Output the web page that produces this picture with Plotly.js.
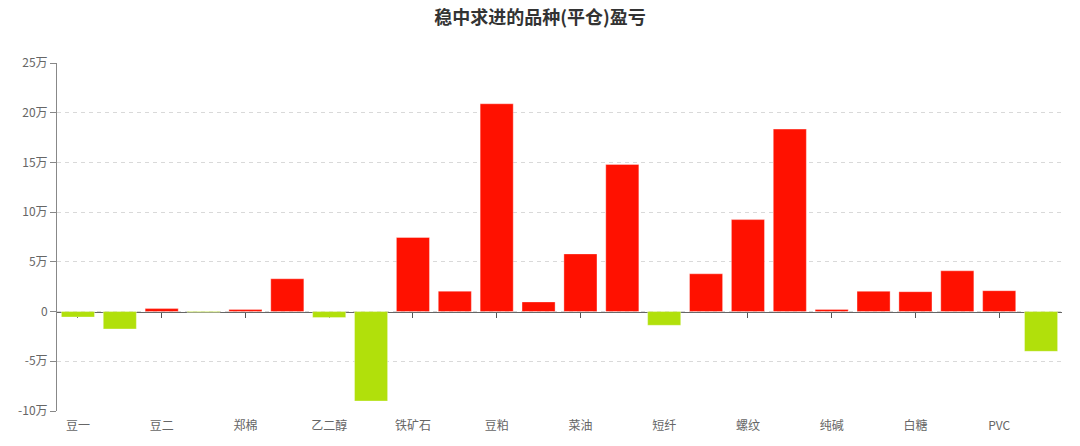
<!DOCTYPE html>
<html>
<head>
<meta charset="utf-8">
<script src="https://cdn.plot.ly/plotly-3.0.1.min.js"></script>
<style>
  html, body { margin: 0; padding: 0; background: #fff; }
  #chart { width: 1080px; height: 446px; }
</style>
</head>
<body>
<div id="chart"></div>
<script>
// Categories (only every other label is shown on the axis)
const categories = ['豆一','豆油','豆二','玉米','郑棉','甲醇','乙二醇','焦炭','铁矿石','焦煤','豆粕','棕榈油',
                    '菜油','菜粕','短纤','PTA','螺纹','热卷','纯碱','玻璃','白糖','苹果','PVC','沪铜'];
// Profit / loss in 万 (10k yuan)
const pnl = [-0.55, -1.75, 0.3, -0.08, 0.2, 3.3, -0.6, -9.0, 7.45, 2.05, 20.9, 0.97,
             5.8, 14.8, -1.38, 3.8, 9.25, 18.35, 0.22, 2.04, 2.0, 4.1, 2.1, -4.0];
const shownLabels = ['豆一','豆二','郑棉','乙二醇','铁矿石','豆粕','菜油','短纤','螺纹','纯碱','白糖','PVC'];
const yTickVals = [-10, -5, 0, 5, 10, 15, 20, 25];
const yTickText = ['-10万', '-5万', '0', '5万', '10万', '15万', '20万', '25万'];
const titleText = '稳中求进的品种(平仓)盈亏';

const RED = '#ff1100';
const GREEN = '#b1e00b';
const barColors = pnl.map(v => v >= 0 ? RED : GREEN);

const yMin = -10, yMax = 25;
const zeroPos = (0 - yMin) / (yMax - yMin);

const font = '"Noto Sans CJK SC", "Noto Sans", sans-serif';

const traces = [
  {
    type: 'bar',
    x: categories,
    y: pnl,
    marker: { color: barColors, line: { color: 'rgba(255,255,255,0.35)', width: 1 } },
    hoverinfo: 'x+y'
  },
  {
    type: 'scatter',
    mode: 'none',
    x: categories,
    y: pnl,
    xaxis: 'x2',
    hoverinfo: 'skip',
    showlegend: false
  }
];

const layout = {
  width: 1080,
  height: 446,
  margin: { l: 57, r: 18, t: 63, b: 35 },
  paper_bgcolor: '#ffffff',
  plot_bgcolor: '#ffffff',
  showlegend: false,
  bargap: 0.21,
  font: { family: font, color: '#666', size: 12 },
  title: {
    text: titleText,
    x: 0.5,
    xanchor: 'center',
    y: 0.96,
    yanchor: 'middle',
    font: { family: font, size: 18, color: '#333', weight: 'bold' }
  },
  xaxis: {
    type: 'category',
    categoryorder: 'array',
    categoryarray: categories,
    tickmode: 'array',
    tickvals: shownLabels,
    ticktext: shownLabels,
    ticks: 'outside',
    ticklen: 4,
    tickcolor: 'rgba(0,0,0,0)',
    showline: false,
    showgrid: false,
    zeroline: false,
    tickfont: { family: font, size: 12, color: '#666' },
    fixedrange: true
  },
  xaxis2: {
    type: 'category',
    overlaying: 'x',
    matches: 'x',
    anchor: 'free',
    position: zeroPos,
    side: 'bottom',
    tickmode: 'array',
    tickvals: shownLabels,
    showticklabels: false,
    ticks: 'outside',
    ticklen: 5,
    tickwidth: 1,
    tickcolor: '#555',
    showline: true,
    linecolor: '#666',
    linewidth: 1,
    showgrid: false,
    zeroline: false,
    layer: 'below traces'
  },
  yaxis: {
    range: [yMin, yMax],
    tickmode: 'array',
    tickvals: yTickVals,
    ticktext: yTickText,
    ticks: 'outside',
    ticklen: 6,
    tickcolor: '#888',
    showline: true,
    linecolor: '#888',
    linewidth: 1,
    showgrid: true,
    gridcolor: '#d9d9d9',
    griddash: '4px,4px',
    gridwidth: 1,
    zeroline: false,
    tickfont: { family: font, size: 12, color: '#666' },
    fixedrange: true
  }
};

Plotly.newPlot('chart', traces, layout, { displayModeBar: false, staticPlot: true });
</script>
</body>
</html>
